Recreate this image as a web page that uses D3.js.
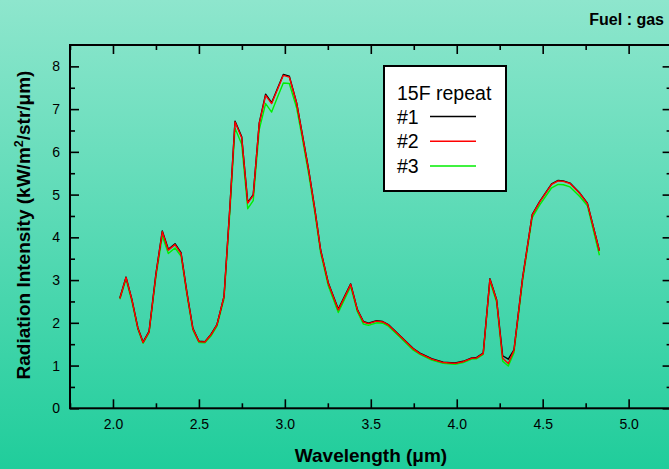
<!DOCTYPE html>
<html><head><meta charset="utf-8">
<script src="https://cdn.jsdelivr.net/npm/d3@7"></script>
<style>html,body{margin:0;padding:0;overflow:hidden;}</style>
</head><body>
<script>
const wavelength = [2.04,2.076,2.11,2.145,2.175,2.21,2.25,2.287,2.322,2.361,2.396,2.43,2.465,2.50,2.535,2.57,2.605,2.646,2.68,2.71,2.749,2.784,2.816,2.851,2.888,2.923,2.957,2.991,3.026,3.069,3.10,3.14,3.175,3.208,3.253,3.311,3.383,3.422,3.457,3.486,3.534,3.569,3.602,3.670,3.747,3.786,3.854,3.921,3.990,4.038,4.087,4.116,4.154,4.193,4.232,4.267,4.300,4.333,4.383,4.439,4.483,4.552,4.590,4.620,4.659,4.717,4.760,4.830];
const run1 = [2.58,3.07,2.55,1.88,1.55,1.80,3.15,4.15,3.72,3.85,3.64,2.72,1.87,1.57,1.56,1.73,1.96,2.62,4.70,6.72,6.35,4.82,5.00,6.68,7.35,7.15,7.48,7.81,7.77,7.14,6.45,5.55,4.65,3.71,2.93,2.32,2.91,2.31,2.03,1.99,2.05,2.03,1.96,1.70,1.40,1.29,1.16,1.08,1.06,1.10,1.18,1.19,1.29,3.03,2.54,1.23,1.15,1.37,3.05,4.53,4.84,5.25,5.33,5.32,5.27,5.03,4.80,3.69];
const run2 = [2.57,3.06,2.54,1.87,1.54,1.79,3.13,4.13,3.70,3.83,3.62,2.70,1.86,1.56,1.55,1.72,1.95,2.61,4.68,6.70,6.33,4.80,4.98,6.66,7.32,7.13,7.46,7.79,7.75,7.13,6.43,5.53,4.63,3.70,2.92,2.30,2.90,2.30,2.02,1.98,2.04,2.02,1.95,1.69,1.39,1.28,1.15,1.07,1.05,1.09,1.17,1.18,1.28,3.02,2.53,1.17,1.05,1.36,3.04,4.52,4.83,5.24,5.32,5.31,5.26,5.02,4.79,3.68];
const run3 = [2.55,3.02,2.50,1.85,1.52,1.77,3.08,4.03,3.62,3.75,3.56,2.66,1.83,1.54,1.53,1.69,1.92,2.56,4.58,6.55,6.18,4.67,4.86,6.52,7.13,6.93,7.28,7.61,7.60,7.02,6.35,5.45,4.56,3.64,2.86,2.24,2.85,2.26,1.97,1.94,2.00,1.99,1.92,1.66,1.36,1.26,1.13,1.05,1.03,1.07,1.15,1.16,1.26,2.97,2.48,1.10,0.99,1.30,2.98,4.46,4.76,5.16,5.24,5.23,5.18,4.95,4.74,3.58];
const seriesNames = ["#1","#2","#3"];
const seriesColors = ["#000000","#ff0000","#00ee00"];
const xTicks = [2.0,2.5,3.0,3.5,4.0,4.5,5.0];
const yTicks = [0,1,2,3,4,5,6,7,8];
const legendTitle = "15F repeat";
const fuelLabel = "Fuel : gas";

const W = 669, H = 469;
const svg = d3.select("body").append("svg").attr("width", W).attr("height", H)
  .style("font-family", "Arial, 'Liberation Sans', sans-serif");

const defs = svg.append("defs");
const grad = defs.append("linearGradient").attr("id","bg").attr("x1",0).attr("y1",0).attr("x2",0).attr("y2",1);
grad.append("stop").attr("offset","0%").attr("stop-color","#8ee6cd");
grad.append("stop").attr("offset","100%").attr("stop-color","#20cd9b");
svg.append("rect").attr("width",W).attr("height",H).attr("fill","url(#bg)");

const x = d3.scaleLinear().domain([1.75, 5.25]).range([70, 671.6]);
const y = d3.scaleLinear().domain([0, 8.5]).range([408.3, 45]);

const [x0, x1] = x.range(), [y0, y1] = y.range();
svg.append("rect").attr("x", x0).attr("y", y1).attr("width", x1 - x0).attr("height", y0 - y1)
  .attr("fill","none").attr("stroke","#000").attr("stroke-width",2);

const minorX = d3.range(1.75, 5.26, 0.25).filter(v => !xTicks.some(t => Math.abs(t - v) < 1e-6));
const minorY = d3.range(0.5, 8.5, 1);

function tickSet(g){
  g.selectAll(".domain").remove();
  g.selectAll(".tick line").attr("stroke","#000").attr("stroke-width",1.6);
}
svg.append("g").attr("transform",`translate(0,${y0})`)
  .call(d3.axisBottom(x).tickValues(xTicks).tickFormat(d3.format(".1f")).tickSizeInner(-9).tickPadding(11))
  .call(tickSet).call(g => g.selectAll("text").attr("font-size",14).attr("fill","#000"));
svg.append("g").attr("transform",`translate(0,${y0})`)
  .call(d3.axisBottom(x).tickValues(minorX).tickFormat("").tickSizeInner(-5)).call(tickSet);
svg.append("g").attr("transform",`translate(0,${y1})`)
  .call(d3.axisTop(x).tickValues(xTicks).tickFormat("").tickSizeInner(-9)).call(tickSet);
svg.append("g").attr("transform",`translate(0,${y1})`)
  .call(d3.axisTop(x).tickValues(minorX).tickFormat("").tickSizeInner(-5)).call(tickSet);
svg.append("g").attr("transform",`translate(${x0},0)`)
  .call(d3.axisLeft(y).tickValues(yTicks).tickFormat(d3.format("d")).tickSizeInner(-9).tickPadding(10))
  .call(tickSet).call(g => g.selectAll("text").attr("font-size",14).attr("fill","#000"));
svg.append("g").attr("transform",`translate(${x0},0)`)
  .call(d3.axisLeft(y).tickValues(minorY).tickFormat("").tickSizeInner(-5)).call(tickSet);
svg.append("g").attr("transform",`translate(${x1},0)`)
  .call(d3.axisRight(y).tickValues(yTicks).tickFormat("").tickSizeInner(-9)).call(tickSet);
svg.append("g").attr("transform",`translate(${x1},0)`)
  .call(d3.axisRight(y).tickValues(minorY).tickFormat("").tickSizeInner(-5)).call(tickSet);

defs.append("clipPath").attr("id","clip").append("rect")
  .attr("x", x0).attr("y", y1).attr("width", x1 - x0).attr("height", y0 - y1);
const line = d3.line().x(d => x(d[0])).y(d => y(d[1]));
const allSeries = [run1, run2, run3];
const drawOrder = [2, 0, 1];
drawOrder.forEach(i => {
  svg.append("path").datum(wavelength.map((w, k) => [w, allSeries[i][k]]))
    .attr("d", line).attr("fill","none").attr("stroke", seriesColors[i])
    .attr("stroke-width",1.4).attr("stroke-linejoin","round").attr("clip-path","url(#clip)");
});

const lg = svg.append("g");
lg.append("rect").attr("x",384).attr("y",66).attr("width",122).attr("height",125)
  .attr("fill","#fff").attr("stroke","#000").attr("stroke-width",2);
lg.append("text").attr("x",397).attr("y",100).attr("font-size",19.5).text(legendTitle);
seriesNames.forEach((n, i) => {
  const yy = 116.5 + i * 24.7;
  lg.append("text").attr("x",397).attr("y",yy + 7).attr("font-size",19.5).text(n);
  lg.append("line").attr("x1",430).attr("x2",476).attr("y1",yy).attr("y2",yy)
    .attr("stroke",seriesColors[i]).attr("stroke-width",1.5);
});

svg.append("text").attr("x",664).attr("y",25).attr("text-anchor","end")
  .attr("font-size",16).attr("font-weight","bold").text(fuelLabel);
svg.append("text").attr("x", 371).attr("y",462).attr("text-anchor","middle")
  .attr("font-size",19).attr("font-weight","bold").text("Wavelength (μm)");
const yt = svg.append("text").attr("transform","translate(30,225) rotate(-90)").attr("text-anchor","middle")
  .attr("font-size",19).attr("font-weight","bold");
yt.append("tspan").text("Radiation Intensity (kW/m");
yt.append("tspan").attr("dy",-7).attr("font-size",12.5).text("2");
yt.append("tspan").attr("dy",7).text("/str/μm)");
</script>
</body></html>
